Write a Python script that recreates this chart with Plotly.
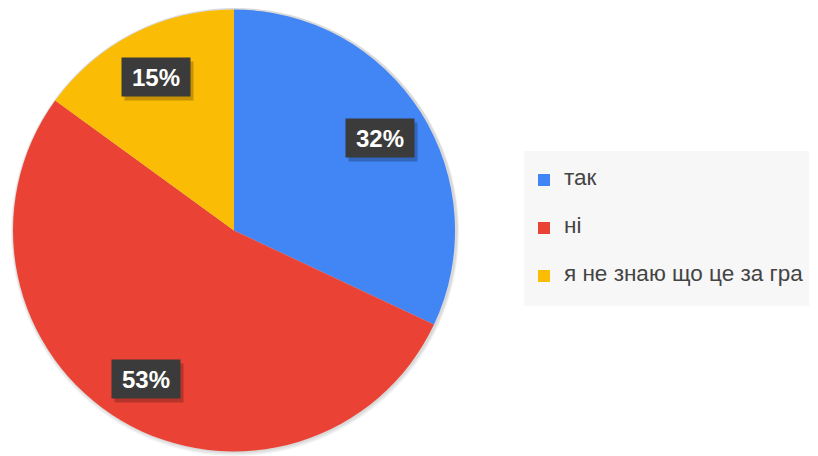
import math
import plotly.graph_objects as go

# дані
labels = ['так', 'ні', 'я не знаю що це за гра']
values = [32, 53, 15]
colors = ['#4285f4', '#ea4335', '#fbbc05']

# сторінка має відступ body 8px, тому фігура трохи менша і зміщена
OFF = 8
W, H = 818 - OFF, 456 - OFF
# геометрія круга (пікселі екрана -> пікселі фігури)
cx, cy, R = 234 - OFF, 230.5 - OFF, 221

fig = go.Figure()

# м'яка тінь навколо круга
for extra in [4.5, 3, 1.5]:
    r = R + extra
    fig.add_trace(go.Pie(
        values=[1], labels=[''], sort=False,
        marker=dict(colors=['rgba(0,0,0,0.05)']),
        domain=dict(x=[(cx - r + 1) / W, (cx + r + 1) / W],
                    y=[max(0, 1 - (cy + r) / H), min(1, 1 - (cy - r) / H)]),
        textinfo='none', hoverinfo='skip', showlegend=False,
    ))

# порожні рядки зверху і знизу дають відстань між пунктами легенди
legend_labels = [f' <br><span style="font-size:22.5px">{l}</span><br> ' for l in labels]

fig.add_trace(go.Pie(
    labels=legend_labels,
    values=values,
    sort=False,
    direction='clockwise',
    rotation=0,
    marker=dict(colors=colors, line=dict(width=0)),
    textinfo='none',
    hoverinfo='label+percent',
    domain=dict(x=[(cx - R) / W, (cx + R) / W],
                y=[1 - (cy + R) / H, 1 - (cy - R) / H]),
))

# підписи з відсотками у темних рамках
total = sum(values)
cum = 0
for v in values:
    mid = (cum + v / 2) / total * 2 * math.pi
    cum += v
    px = cx + 0.78 * R * math.sin(mid)
    py = cy - 0.78 * R * math.cos(mid)
    pct = f'{round(v / total * 100)}%'
    common = dict(xref='paper', yref='paper', x=px / W, y=1 - py / H,
                  showarrow=False, width=68, height=38, borderpad=0,
                  xanchor='center', yanchor='middle')
    fig.add_annotation(text='', bgcolor='rgba(0,0,0,0.22)', xshift=3, yshift=-4, **common)
    fig.add_annotation(text=f'<b>{pct}</b>', bgcolor='#3b3b3b',
                       font=dict(family='Arial, Liberation Sans', size=24, color='white'),
                       **common)

fig.update_layout(
    width=W, height=H,
    margin=dict(l=0, r=0, t=0, b=0, autoexpand=False),
    paper_bgcolor='white',
    plot_bgcolor='white',
    showlegend=True,
    legend=dict(
        x=(524 - OFF) / W, xanchor='left',
        y=1 - (151 - OFF) / H, yanchor='top',
        bgcolor='#f7f7f7',
        font=dict(family='Arial, Liberation Sans', size=11.54, color='#444444'),
        valign='middle',
        traceorder='normal',
    ),
)

fig.write_html("out.html")
